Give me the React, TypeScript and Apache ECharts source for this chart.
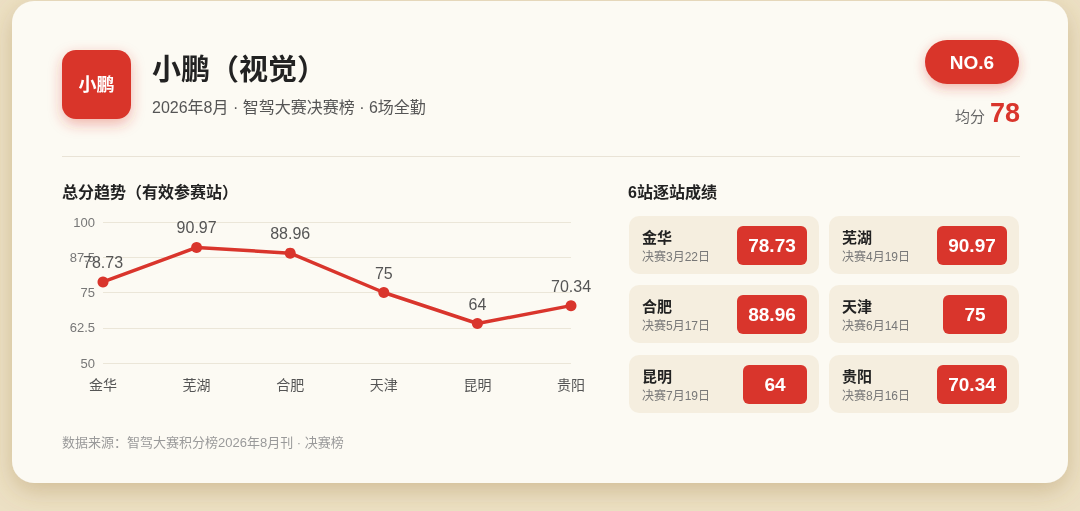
import React, { useEffect, useRef } from "react";
import * as echarts from "echarts";

const stations = ["金华", "芜湖", "合肥", "天津", "昆明", "贵阳"];
const scores = [78.73, 90.97, 88.96, 75, 64, 70.34];
const dates = ["决赛3月22日", "决赛4月19日", "决赛5月17日", "决赛6月14日", "决赛7月19日", "决赛8月16日"];
const yMin = 50;
const yMax = 100;
const yStep = 12.5;

const brand = "小鹏";
const title = "小鹏（视觉）";
const subtitle = "2026年8月 · 智驾大赛决赛榜 · 6场全勤";
const rankText = "NO.6";
const avgLabel = "均分";
const avgValue = "78";
const trendTitle = "总分趋势（有效参赛站）";
const cardsTitle = "6站逐站成绩";
const footer = "数据来源：智驾大赛积分榜2026年8月刊 · 决赛榜";

const FONT = '"Liberation Sans", "Noto Sans CJK SC", sans-serif';
const RED = "#d9352c";

function measure(text: string, size: number, weight: string) {
  const c = document.createElement("canvas");
  const ctx = c.getContext("2d")!;
  ctx.font = `${weight} ${size}px ${FONT}`;
  return ctx.measureText(text).width;
}

export default function App() {
  const ref = useRef<HTMLDivElement>(null);
  useEffect(() => {
    const chart = echarts.init(ref.current!, null, { renderer: "svg" });

    const graphics: any[] = [
      { type: "rect", z: 0, shape: { x: 0, y: 0, width: 1080, height: 511 }, style: { fill: "#ece0c4" } },
      {
        type: "rect", z: 1,
        shape: { x: 12, y: 1, width: 1056, height: 482, r: 22 },
        style: { fill: "#fcfaf3", shadowBlur: 24, shadowOffsetY: 8, shadowColor: "rgba(150,115,50,0.32)" },
      },
      {
        type: "rect", z: 2,
        shape: { x: 62, y: 50, width: 69, height: 69, r: 14 },
        style: { fill: RED, shadowBlur: 14, shadowOffsetY: 5, shadowColor: "rgba(217,53,44,0.35)" },
      },
      { type: "text", z: 3, x: 96.5, y: 85, style: { text: brand, fill: "#fff", fontSize: 18, fontWeight: "bold", fontFamily: FONT, align: "center", verticalAlign: "middle" } },
      { type: "text", z: 3, x: 152, y: 70, style: { text: title, fill: "#222", fontSize: 29, fontWeight: "bold", fontFamily: FONT, align: "left", verticalAlign: "middle" } },
      { type: "text", z: 3, x: 152, y: 107, style: { text: subtitle, fill: "#555", fontSize: 16, fontFamily: FONT, align: "left", verticalAlign: "middle" } },
      {
        type: "rect", z: 2,
        shape: { x: 925, y: 40, width: 94, height: 44, r: 22 },
        style: { fill: RED, shadowBlur: 12, shadowOffsetY: 4, shadowColor: "rgba(217,53,44,0.35)" },
      },
      { type: "text", z: 3, x: 972, y: 62, style: { text: rankText, fill: "#fff", fontSize: 19, fontWeight: "bold", fontFamily: FONT, align: "center", verticalAlign: "middle" } },
      { type: "text", z: 3, x: 985, y: 116, style: { text: avgLabel, fill: "#666", fontSize: 15, fontFamily: FONT, align: "right", verticalAlign: "middle" } },
      { type: "text", z: 3, x: 990, y: 113, style: { text: avgValue, fill: RED, fontSize: 27, fontWeight: "bold", fontFamily: FONT, align: "left", verticalAlign: "middle" } },
      { type: "rect", z: 2, shape: { x: 62, y: 156, width: 958, height: 1 }, style: { fill: "#e9e3d6" } },
      { type: "text", z: 3, x: 62, y: 192, style: { text: trendTitle, fill: "#222", fontSize: 16, fontWeight: "bold", fontFamily: FONT, align: "left", verticalAlign: "middle" } },
      { type: "text", z: 3, x: 628, y: 192, style: { text: cardsTitle, fill: "#222", fontSize: 16, fontWeight: "bold", fontFamily: FONT, align: "left", verticalAlign: "middle" } },
      { type: "text", z: 3, x: 62, y: 442, style: { text: footer, fill: "#9a9a9a", fontSize: 13, fontFamily: FONT, align: "left", verticalAlign: "middle" } },
    ];

    const colX = [629, 829];
    const rowY = [216, 285, 355];
    const cardW = 190;
    const cardH = 58;
    stations.forEach((name, i) => {
      const x = colX[i % 2];
      const y = rowY[Math.floor(i / 2)];
      const valText = String(scores[i]);
      const tw = measure(valText, 19, "bold");
      const bw = Math.max(64, Math.round(tw + 22));
      graphics.push(
        { type: "rect", z: 2, shape: { x, y, width: cardW, height: cardH, r: 10 }, style: { fill: "#f5eedf" } },
        { type: "text", z: 3, x: x + 13, y: y + 21, style: { text: name, fill: "#222", fontSize: 15, fontWeight: "bold", fontFamily: FONT, align: "left", verticalAlign: "middle" } },
        { type: "text", z: 3, x: x + 13, y: y + 41, style: { text: dates[i], fill: "#777", fontSize: 12, fontFamily: FONT, align: "left", verticalAlign: "middle" } },
        { type: "rect", z: 3, shape: { x: x + cardW - 12 - bw, y: y + 10, width: bw, height: 39, r: 6 }, style: { fill: RED } },
        { type: "text", z: 4, x: x + cardW - 12 - bw / 2, y: y + 29.5, style: { text: valText, fill: "#fff", fontSize: 19, fontWeight: "bold", fontFamily: FONT, align: "center", verticalAlign: "middle" } },
      );
    });

    chart.setOption({
      animation: false,
      graphic: { elements: graphics },
      grid: { left: 103, right: 509, top: 222, bottom: 148, containLabel: false, z: 5 },
      xAxis: {
        type: "category",
        data: stations,
        boundaryGap: false,
        z: 5,
        axisLine: { show: false },
        axisTick: { show: false },
        axisLabel: { color: "#555", fontSize: 14, margin: 15, fontFamily: FONT },
      },
      yAxis: {
        type: "value",
        min: yMin,
        max: yMax,
        interval: yStep,
        z: 5,
        axisLine: { show: false },
        axisTick: { show: false },
        axisLabel: { color: "#777", fontSize: 13, margin: 8, fontFamily: FONT },
        splitLine: { lineStyle: { color: "#ebe6d8", width: 1 } },
      },
      series: [
        {
          type: "line",
          z: 6,
          data: scores,
          symbol: "circle",
          symbolSize: 11,
          lineStyle: { color: RED, width: 3.5 },
          itemStyle: { color: RED },
          label: { show: true, position: "top", distance: 6, color: "#555", fontSize: 16, fontFamily: FONT },
        },
      ],
    });
    return () => chart.dispose();
  }, []);
  return <div ref={ref} style={{ position: "fixed", left: 0, top: 0, width: 1080, height: 511 }} />;
}
